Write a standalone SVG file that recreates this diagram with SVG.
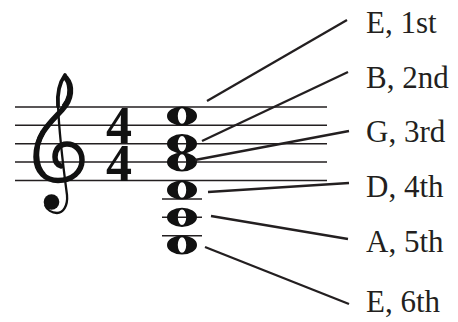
<svg xmlns="http://www.w3.org/2000/svg" width="458" height="322" viewBox="0 0 458 322">
<style>
.staff{stroke:#231f20;stroke-width:1.6;fill:none}
.conn{stroke:#231f20;stroke-width:2.3;fill:none;stroke-linecap:butt}
.lbl{font-family:"Liberation Serif","Times New Roman",serif;font-size:31px;fill:#231f20}
.ts{font-family:"Liberation Serif","Times New Roman",serif;font-size:52px;font-weight:bold;fill:#111;text-anchor:middle}
.ink{fill:#111}
.cl{fill:none;stroke:#111}
</style>
<defs>
<path id="whole" fill-rule="evenodd" d="M -15,0 A 15,9.6 0 1 0 15,0 A 15,9.6 0 1 0 -15,0 Z M -4.2,0 A 4.2,7.8 0 1 0 4.2,0 A 4.2,7.8 0 1 0 -4.2,0 Z"/>
</defs>
<rect width="458" height="322" fill="#fff"/>
<g id="staff">
<path class="staff" d="M15,107H327M15,125.3H327M15,143.7H327M15,162H327M15,180.5H327"/>
<path class="staff" d="M162,199H202M162,217.3H202M162,235.7H202"/>
</g>
<g id="clef">
<path class="cl" d="M66,78 C73,86 72,99 62,110 C51,122 36,134 36,157 C36,172 46,180.5 58,180.5 C72,180.5 82,172 82,160 C82,150 75,144 67,144 C59,144 55,150 55,157 C55,162 58,165 61,166" stroke-width="5.5" stroke-linecap="round"/>
<path class="cl" d="M43,132 C34,146 35,166 44,175" stroke-width="5"/>
<path class="cl" d="M68,84 C70,92 68,100 63,106" stroke-width="3"/>
<path class="cl" d="M65,75 C60,82 57,92 58,106" stroke-width="3.8" stroke-linecap="round"/>
<path class="cl" d="M58,105 C59,130 63,165 67,195 C68,206 63,213 57,213 C52,213 47,210 45,205" stroke-width="2.3"/>
<circle cx="51.5" cy="202" r="7.8" class="ink"/>
</g>
<g id="time">
<text class="ts" x="119" y="142.5">4</text>
<text class="ts" x="119" y="180.5">4</text>
</g>
<g id="notes" class="ink">
<use href="#whole" x="182" y="116"/>
<use href="#whole" x="182" y="143.7"/>
<use href="#whole" x="182" y="162"/>
<use href="#whole" x="182" y="190"/>
<use href="#whole" x="182" y="217.3"/>
<use href="#whole" x="182" y="245"/>
</g>
<g id="connectors">
<line class="conn" x1="207" y1="101" x2="347" y2="20"/>
<line class="conn" x1="202" y1="141" x2="348" y2="72"/>
<line class="conn" x1="195" y1="160" x2="349" y2="131"/>
<line class="conn" x1="208" y1="192" x2="349" y2="183"/>
<line class="conn" x1="211" y1="216" x2="348" y2="239"/>
<line class="conn" x1="205" y1="247" x2="349" y2="304"/>
</g>
<g id="label-e1"><text class="lbl" x="366" y="33">E, 1st</text></g>
<g id="label-b2"><text class="lbl" x="366" y="88">B, 2nd</text></g>
<g id="label-g3"><text class="lbl" x="366" y="142">G, 3rd</text></g>
<g id="label-d4"><text class="lbl" x="366" y="197">D, 4th</text></g>
<g id="label-a5"><text class="lbl" x="366" y="252">A, 5th</text></g>
<g id="label-e6"><text class="lbl" x="366" y="312">E, 6th</text></g>
</svg>
